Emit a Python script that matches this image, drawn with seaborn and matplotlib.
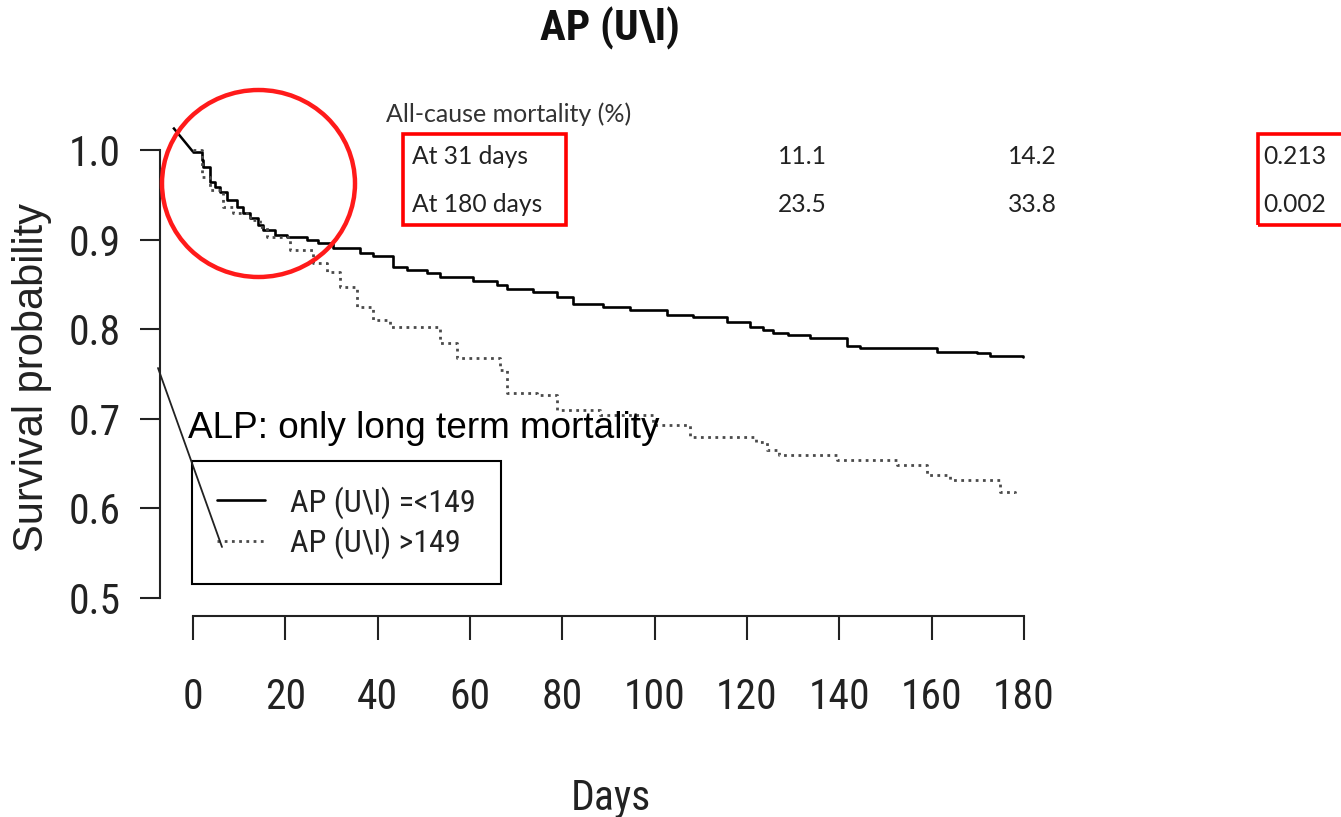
import matplotlib
matplotlib.use("Agg")
import matplotlib.pyplot as plt
from matplotlib import font_manager as fm
import seaborn as sns
import pandas as pd
from matplotlib.patches import Ellipse, Rectangle
from matplotlib.lines import Line2D

# ---------------- data ----------------
days_low = [-4.3, 0.0, 1.9, 2.2, 3.7, 4.8, 5.8, 7.4, 9.5, 10.8, 12.3, 14.1, 15.2,
            17.8, 20.4, 24.7, 27.1, 30.3, 36.2, 39.0, 43.3, 46.4, 50.7, 53.5,
            60.6, 65.8, 68.0, 73.6, 78.8, 82.3, 88.8, 94.6, 102.7, 108.3, 115.7,
            120.6, 123.5, 125.6, 128.9, 133.6, 141.6, 144.5, 161.1, 169.8, 172.6,
            179.8]
surv_low = [1.025, 0.998, 0.989, 0.981, 0.964, 0.959, 0.953, 0.944, 0.936, 0.930,
            0.924, 0.916, 0.911, 0.905, 0.903, 0.900, 0.896, 0.891, 0.885, 0.882,
            0.869, 0.866, 0.863, 0.858, 0.854, 0.849, 0.845, 0.842, 0.836, 0.828,
            0.825, 0.821, 0.816, 0.814, 0.808, 0.802, 0.799, 0.796, 0.794, 0.790,
            0.781, 0.779, 0.775, 0.773, 0.770, 0.769]

days_high = [0.0, 1.9, 3.7, 6.5, 8.7, 12.3, 14.5, 16.0, 21.0, 26.0, 29.0, 31.8,
             35.5, 39.0, 42.7, 53.5, 57.2, 66.5, 68.0, 74.5, 78.8, 88.2, 99.6,
             107.6, 122.0, 124.3, 127.0, 139.5, 152.5, 159.0, 164.0, 174.8, 178.0]
surv_high = [1.000, 0.970, 0.955, 0.936, 0.930, 0.922, 0.914, 0.903, 0.888, 0.874,
             0.864, 0.847, 0.825, 0.810, 0.802, 0.785, 0.768, 0.754, 0.729, 0.727,
             0.710, 0.704, 0.693, 0.680, 0.674, 0.665, 0.660, 0.654, 0.648, 0.637,
             0.632, 0.618, 0.617]

group_labels = ["AP (U\\l) =<149", "AP (U\\l) >149"]
x_ticks = [0, 20, 40, 60, 80, 100, 120, 140, 160, 180]
y_ticks = [0.5, 0.6, 0.7, 0.8, 0.9, 1.0]

title_text = "AP (U\\l)"
x_label = "Days"
y_label = "Survival probability"
note_text = "ALP: only long term mortality"
table_header = "All-cause mortality (%)"
table_rows = ["At 31 days", "At 180 days"]
table_low = ["11.1", "23.5"]
table_high = ["14.2", "33.8"]
table_p = ["0.213", "0.002"]

# ---------------- fonts ----------------
avail = {f.name for f in fm.fontManager.ttflist}
narrow_pref = ["Liberation Sans Narrow", "Arial Narrow", "Roboto Condensed",
               "Archivo Narrow", "PT Sans Narrow", "Pragati Narrow",
               "Sofia Sans Condensed", "Fira Sans Condensed",
               "IBM Plex Sans Condensed", "Encode Sans Condensed",
               "Barlow Semi Condensed", "Open Sans Condensed"]
narrow_name = next((n for n in narrow_pref if n in avail), None)
if narrow_name is None:
    NARROW = ["Liberation Sans", "DejaVu Sans"]
    nscale = 0.85
else:
    NARROW = [narrow_name, "Liberation Sans", "DejaVu Sans"]
    nscale = 1.0
ARIAL = ["Liberation Sans", "DejaVu Sans"]
TFONT = [n for n in ["Lato", "Open Sans"] if n in avail] + ["DejaVu Sans"]

sns.set_style("ticks")
plt.rcParams["font.family"] = NARROW

W, H = 1341, 817
fig = plt.figure(figsize=(W / 100, H / 100), dpi=100)


def fx(px):
    return px / W


def fy(py):
    return 1 - py / H


ax = fig.add_axes([fx(160), fy(616), fx(1040) - fx(160), fy(99.8) - fy(616)])
ax.set_xlim(-7.15, 183.5)
ax.set_ylim(0.48, 1.056)

df_low = pd.DataFrame({"days": days_low[1:], "surv": surv_low[1:]})
df_high = pd.DataFrame({"days": days_high, "surv": surv_high})

# lead-in segment of the first curve (as drawn in the picture)
ax.plot(days_low[:2], surv_low[:2], color="black", lw=1.8, solid_capstyle="butt")
sns.lineplot(data=df_low, x="days", y="surv", ax=ax, color="black", lw=1.9,
             drawstyle="steps-post", estimator=None, sort=False,
             label=group_labels[0])
sns.lineplot(data=df_high, x="days", y="surv", ax=ax, color="#4a4a4a", lw=2.0,
             linestyle=(0, (1, 1.6)), drawstyle="steps-post", estimator=None,
             sort=False, label=group_labels[1])

# R-style axes
for s in ["top", "right"]:
    ax.spines[s].set_visible(False)
ax.spines["left"].set_bounds(0.5, 1.0)
ax.spines["bottom"].set_bounds(0, 180)
for s in ["left", "bottom"]:
    ax.spines[s].set_linewidth(1.5)
    ax.spines[s].set_color("#222222")
ax.set_xticks(x_ticks)
ax.set_yticks(y_ticks)
ax.set_xticklabels([str(v) for v in x_ticks])
ax.set_yticklabels([f"{v:.1f}" for v in y_ticks])
ax.tick_params(axis="y", length=14.4, width=1.5, pad=14, labelsize=30 * nscale,
               colors="#222222")
ax.tick_params(axis="x", length=17, width=1.5, pad=27, labelsize=30 * nscale,
               colors="#222222")

ax.set_xlabel(x_label, fontsize=30 * nscale, va="baseline", color="#222222")
ax.xaxis.set_label_coords((611 - 160) / 880, (616 - 810) / 516.2)
ax.set_ylabel(y_label, fontsize=30, va="center", color="#222222", family=ARIAL)
ax.yaxis.set_label_coords((32 - 160) / 880, (616 - 377.5) / 516.2)

ax.set_title(title_text, fontsize=31 * nscale, fontweight="bold",
             x=(610 - 160) / 880, y=(616 - 49) / 516.2, va="baseline",
             color="#111111")

leg = ax.legend(loc="upper left", bbox_to_anchor=(fx(192), fy(461)),
                bbox_transform=fig.transFigure, frameon=True, fancybox=False,
                edgecolor="black", framealpha=1, borderaxespad=0,
                fontsize=23 * nscale, handlelength=1.5, handletextpad=0.8,
                borderpad=0.78, labelspacing=0.26)
leg.get_frame().set_linewidth(1.5)
for t in leg.get_texts():
    t.set_color("#222222")

# note text
fig.text(fx(188), fy(438), note_text, fontsize=26.6, va="baseline", ha="left",
         family=ARIAL, color="black")

# table text
fig.text(fx(386), fy(122), table_header, fontsize=18, family=TFONT,
         va="baseline", color="#333333")
row_y = [164, 212]
for i in range(2):
    fig.text(fx(412), fy(row_y[i]), table_rows[i], fontsize=17.7, family=TFONT,
             va="baseline", color="#222222")
    fig.text(fx(778), fy(row_y[i]), table_low[i], fontsize=17.7, family=TFONT,
             va="baseline", color="#222222")
    fig.text(fx(1008), fy(row_y[i]), table_high[i], fontsize=17.7, family=TFONT,
             va="baseline", color="#222222")
    fig.text(fx(1263), fy(row_y[i]), table_p[i], fontsize=17.7, family=TFONT,
             va="baseline", color="#222222")

# annotations: red circle, red boxes, diagonal pointer line
fig.add_artist(Ellipse((fx(258.5), fy(183.5)), 193 / W, 187 / H,
                       transform=fig.transFigure, fill=False,
                       edgecolor="#ff1a1a", lw=3.2))
fig.add_artist(Rectangle((fx(403), fy(225)), (566 - 403) / W, (225 - 134) / H,
                         transform=fig.transFigure, fill=False,
                         edgecolor="#ff0000", lw=2.6))
fig.add_artist(Rectangle((fx(1258), fy(225)), (1400 - 1258) / W, (225 - 134) / H,
                         transform=fig.transFigure, fill=False,
                         edgecolor="#ff0000", lw=2.6))
fig.add_artist(Line2D([fx(158), fx(222)], [fy(368), fy(547)],
                      transform=fig.transFigure, color="#222222", lw=1.3))

fig.savefig("out.png", dpi=100)
